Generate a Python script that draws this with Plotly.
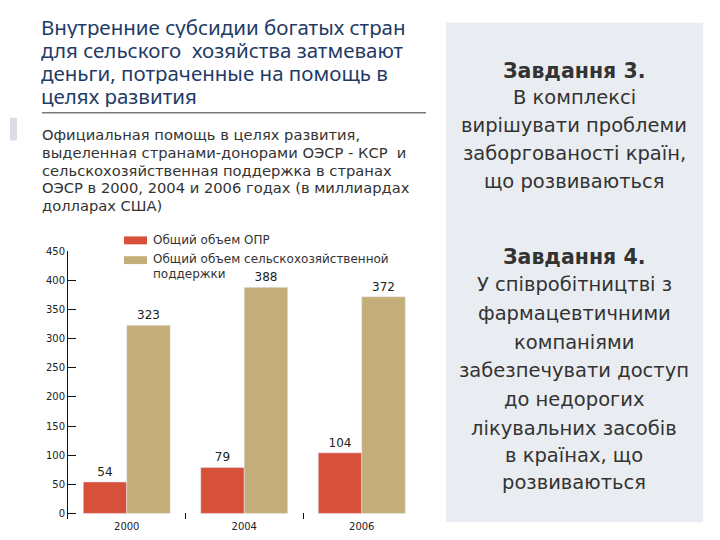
import plotly.graph_objects as go

W = 720
H = 540

years = ["2000", "2004", "2006"]
oda = [54, 79, 104]
agri = [323, 388, 372]
series_names = ["Общий объем ОПР", "Общий объем сельскохозяйственной<br>поддержки"]
y_ticks = [0, 50, 100, 150, 200, 250, 300, 350, 400, 450]

title_lines = [
    "Внутренние субсидии богатых стран",
    "для сельского  хозяйства затмевают",
    "деньги, потраченные на помощь в",
    "целях развития",
]
subtitle_lines = [
    "Официальная помощь в целях развития,",
    "выделенная странами-донорами ОЭСР - КСР  и",
    "сельскохозяйственная поддержка в странах",
    "ОЭСР в 2000, 2004 и 2006 годах (в миллиардах",
    "долларах США)",
]
panel_lines = [
    ("<b>Завдання 3.</b>", 65),
    ("В комплексі", 93),
    ("вирішувати проблеми", 121),
    ("заборгованості країн,", 149),
    ("що розвиваються", 177),
    ("<b>Завдання 4.</b>", 253),
    ("У співробітництві з", 282),
    ("фармацевтичними", 311),
    ("компаніями", 340),
    ("забезпечувати доступ", 369),
    ("до недорогих", 398),
    ("лікувальних засобів", 427),
    ("в країнах, що", 455),
    ("розвиваються", 482),
]

RED = "#d6503a"
TAN = "#c3ad79"


def px(x):
    return x / W


def py(y):
    return 1 - y / H


fig = go.Figure()
fig.add_trace(go.Bar(x=years, y=oda, name=series_names[0], marker_color=RED,
                     text=oda, textposition="outside", cliponaxis=False,
                     textfont=dict(size=12, color="#222")))
fig.add_trace(go.Bar(x=years, y=agri, name=series_names[1], marker_color=TAN,
                     text=agri, textposition="outside", cliponaxis=False,
                     textfont=dict(size=12, color="#222")))

fig.update_layout(
    width=W, height=H,
    margin=dict(l=0, r=0, t=0, b=0),
    paper_bgcolor="white", plot_bgcolor="white",
    barmode="group", bargap=0.26, bargroupgap=0,
    showlegend=False,
    font=dict(family="DejaVu Sans", color="#333"),
    xaxis=dict(domain=[px(68), px(420.5)], type="category",
               tickson="boundaries", ticks="inside", ticklen=6, tickcolor="#111",
               showline=False, showgrid=False, zeroline=False,
               tickfont=dict(size=10, color="#222")),
    yaxis=dict(domain=[py(519), py(248)], range=[-10, 450],
               tickvals=y_ticks, ticks="inside", ticklen=8, tickcolor="#111",
               showline=True, linecolor="#111", linewidth=1,
               showgrid=False, zeroline=False,
               tickfont=dict(size=10, color="#222")),
)

shapes = []
ann = []

# right panel
shapes.append(dict(type="rect", xref="paper", yref="paper",
                   x0=px(446), x1=px(703), y0=py(522), y1=py(17),
                   fillcolor="#e9edf1", line=dict(width=0), layer="below"))
# faint artifact at the left edge
shapes.append(dict(type="rect", xref="paper", yref="paper",
                   x0=px(10), x1=px(17), y0=py(136), y1=py(113),
                   fillcolor="#dcdce8", line=dict(width=0), layer="below"))
# rule under the title
shapes.append(dict(type="line", xref="paper", yref="paper",
                   x0=px(42), x1=px(426), y0=py(108), y1=py(108),
                   line=dict(color="#7a7a7a", width=1.5)))

# legend swatches
shapes.append(dict(type="rect", xref="paper", yref="paper",
                   x0=px(124), x1=px(147), y0=py(241), y1=py(233),
                   fillcolor=RED, line=dict(width=0)))
shapes.append(dict(type="rect", xref="paper", yref="paper",
                   x0=px(124), x1=px(147), y0=py(261), y1=py(253),
                   fillcolor=TAN, line=dict(width=0)))
leg = [(series_names[0], 237),
       ("Общий объем сельскохозяйственной", 256),
       ("поддержки", 271)]
for t, yy in leg:
    ann.append(dict(text=t, x=px(152), y=py(yy), xref="paper", yref="paper",
                    xanchor="left", yanchor="middle", showarrow=False,
                    height=14, borderpad=0,
                    font=dict(size=12, color="#333", family="DejaVu Sans")))

for i, line in enumerate(title_lines):
    ann.append(dict(text=line, x=px(40), y=py(21 + 23.5 * i), xref="paper", yref="paper",
                    xanchor="left", yanchor="middle", showarrow=False,
                    height=22, borderpad=0,
                    font=dict(size=20.5, color="#1f3b66", family="Noto Sans")))

for i, line in enumerate(subtitle_lines):
    ann.append(dict(text=line, x=px(41), y=py(130 + 18 * i), xref="paper", yref="paper",
                    xanchor="left", yanchor="middle", showarrow=False,
                    height=17, borderpad=0,
                    font=dict(size=14.7, color="#333", family="DejaVu Sans")))

for line, yy in panel_lines:
    size = 20.5 if line.startswith("<b>") else 19.5
    ann.append(dict(text=line, x=px(574), y=py(yy), xref="paper", yref="paper",
                    xanchor="center", yanchor="middle", showarrow=False,
                    height=27, borderpad=0,
                    font=dict(size=size, color="#333", family="DejaVu Sans")))

fig.update_layout(shapes=shapes, annotations=ann)
fig.write_html("out.html", config={"displayModeBar": False},
               post_script="document.body.style.margin='0';")
